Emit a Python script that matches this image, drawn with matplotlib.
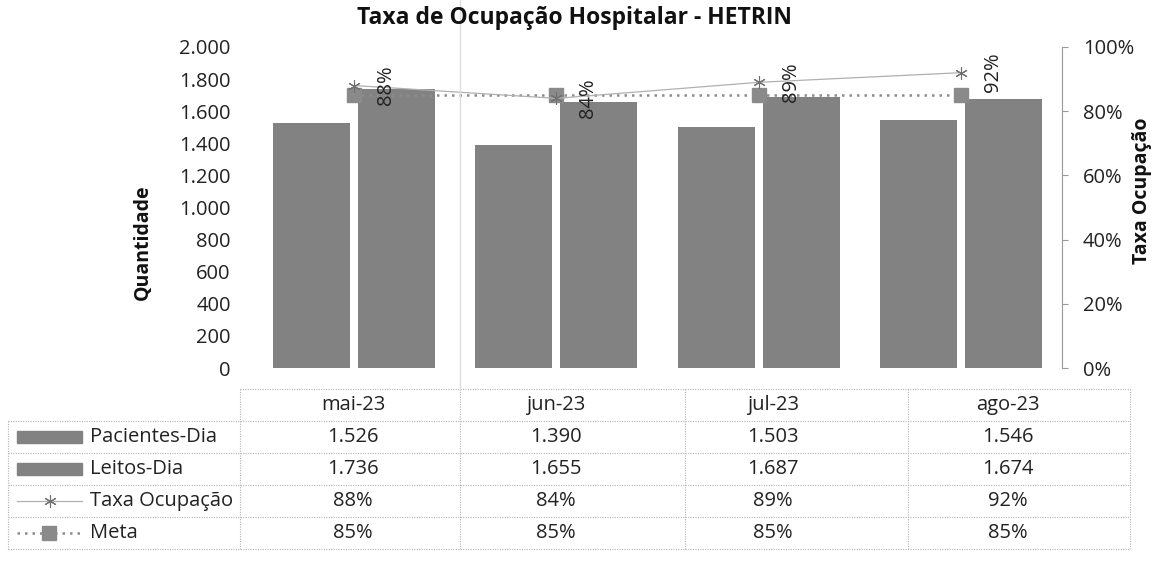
import matplotlib
matplotlib.use("Agg")
import matplotlib.pyplot as plt
from matplotlib.ticker import FuncFormatter, FixedLocator
from matplotlib.patches import Rectangle
from matplotlib.lines import Line2D

plt.rcParams['font.family'] = ['Open Sans', 'DejaVu Sans']

# ---- data ----
months = ["mai-23", "jun-23", "jul-23", "ago-23"]
pacientes_dia = [1526, 1390, 1503, 1546]
leitos_dia = [1736, 1655, 1687, 1674]
taxa_ocupacao = [0.88, 0.84, 0.89, 0.92]
meta = [0.85, 0.85, 0.85, 0.85]
series_names = ["Pacientes-Dia", "Leitos-Dia", "Taxa Ocupação", "Meta"]
title = "Taxa de Ocupação Hospitalar - HETRIN"

W, H = 1156, 565
fig = plt.figure(figsize=(W / 100, H / 100), dpi=100)

def fx(px):
    return px / W

def fy(py):
    return 1 - py / H

BAR = "#828282"
FS = 14.5

# ---- main axes ----
left_px, right_px, top_px, bot_px = 253, 1062, 47, 368
ax = fig.add_axes([fx(left_px), fy(bot_px), fx(right_px) - fx(left_px), fy(top_px) - fy(bot_px)])
x = list(range(len(months)))
bw = 0.38
ax.bar([i - 0.21 for i in x], pacientes_dia, width=bw, color=BAR, zorder=2)
ax.bar([i + 0.21 for i in x], leitos_dia, width=bw, color=BAR, zorder=2)
ax.set_xlim(-0.5, len(months) - 0.5)
ax.set_ylim(0, 2000)
ax.yaxis.set_major_locator(FixedLocator(range(0, 2001, 200)))
ax.yaxis.set_major_formatter(FuncFormatter(lambda v, p: f"{int(v):,}".replace(",", ".")))
ax.tick_params(axis='y', length=0, pad=16, labelsize=FS, labelcolor="#222222")
ax.set_xticks([])
for s in ax.spines.values():
    s.set_visible(False)

ax2 = ax.twinx()
ax2.set_ylim(0, 1.0)
ax2.yaxis.set_major_locator(FixedLocator([0, 0.2, 0.4, 0.6, 0.8, 1.0]))
ax2.yaxis.set_major_formatter(FuncFormatter(lambda v, p: f"{int(round(v * 100))}%"))
ax2.tick_params(axis='y', length=4, width=0.8, color="#999999", pad=11, labelsize=FS, labelcolor="#222222")
for k, s in ax2.spines.items():
    s.set_visible(k == 'right')
ax2.spines['right'].set_color("#999999")
ax2.spines['right'].set_linewidth(0.8)

ax2.plot(x, meta, linestyle=(0, (1, 2)), color="#8c8c8c", linewidth=1.8,
         marker='s', markersize=9.5, markerfacecolor="#8a8a8a", markeredgecolor="#8a8a8a", zorder=3)
ax2.plot(x, taxa_ocupacao, linestyle='-', color="#b0b0b0", linewidth=0.9,
         marker=(6, 2, 0), markersize=9, markeredgecolor="#707070", markeredgewidth=0.8, zorder=4)
for i, v in zip(x, taxa_ocupacao):
    ax2.annotate(f"{int(round(v * 100))}%", (i, v), xytext=(23, 0), textcoords='offset points',
                 rotation=90, ha='center', va='center', fontsize=FS, color="#222222", zorder=5)

# ---- titles ----
fig.text(fx(574), fy(18), title, ha='center', va='center', fontsize=16.5, fontweight='bold', color="#111111")
fig.text(fx(143), fy(242), "Quantidade", rotation=90, ha='center', va='center', fontsize=14, fontweight='bold', color="#111111")
fig.text(fx(1142), fy(191), "Taxa Ocupação", rotation=90, ha='center', va='center', fontsize=14, fontweight='bold', color="#111111")

# ---- data table ----
tab = fig.add_axes([0, 0, 1, 1])
tab.set_xlim(0, W)
tab.set_ylim(H, 0)
tab.axis('off')
tab.patch.set_alpha(0)

LC = "#b5b5b5"
ls = (0, (1, 1.2))
col_edges = [240, 460, 685, 908, 1130]
row_edges = [389, 421, 453, 485, 517, 549]
# header row lines
tab.plot([col_edges[0], col_edges[-1]], [row_edges[0]] * 2, color=LC, lw=0.8, ls=ls)
for ry in row_edges[1:]:
    tab.plot([8, col_edges[-1]], [ry] * 2, color=LC, lw=0.8, ls=ls)
for cx in col_edges:
    tab.plot([cx, cx], [row_edges[0], row_edges[-1]], color=LC, lw=0.8, ls=ls)
tab.plot([8, 8], [row_edges[1], row_edges[-1]], color=LC, lw=0.8, ls=ls)
# faint scan fold line
tab.plot([460, 460], [0, row_edges[0]], color="#dddddd", lw=1.0)

text_cx = [353, 556, 773, 1008]
row_cy = [405, 437, 469, 501, 533]
for cx, m in zip(text_cx, months):
    tab.text(cx, row_cy[0], m, ha='center', va='center', fontsize=FS, color="#222222")
rows = [
    [f"{v:,}".replace(",", ".") for v in pacientes_dia],
    [f"{v:,}".replace(",", ".") for v in leitos_dia],
    [f"{int(round(v * 100))}%" for v in taxa_ocupacao],
    [f"{int(round(v * 100))}%" for v in meta],
]
for r, vals in enumerate(rows):
    cy = row_cy[r + 1]
    for cx, t in zip(text_cx, vals):
        tab.text(cx, cy, t, ha='center', va='center', fontsize=FS, color="#222222")
    tab.text(90, cy, series_names[r], ha='left', va='center', fontsize=FS, color="#222222")

# legend keys
for r in range(2):
    cy = row_cy[r + 1]
    tab.add_patch(Rectangle((17, cy - 6), 65, 12, color=BAR))
cy = row_cy[3]
tab.add_line(Line2D([17, 82], [cy, cy], color="#b0b0b0", lw=0.9))
tab.add_line(Line2D([50], [cy], marker=(6, 2, 0), markersize=9, markeredgecolor="#707070", markeredgewidth=0.8))
cy = row_cy[4]
tab.add_line(Line2D([17, 82], [cy, cy], color="#8c8c8c", lw=1.8, ls=(0, (1, 2))))
tab.add_line(Line2D([49], [cy], marker='s', markersize=9.5, markerfacecolor="#8a8a8a", markeredgecolor="#8a8a8a"))

fig.savefig("out.png", dpi=100)
